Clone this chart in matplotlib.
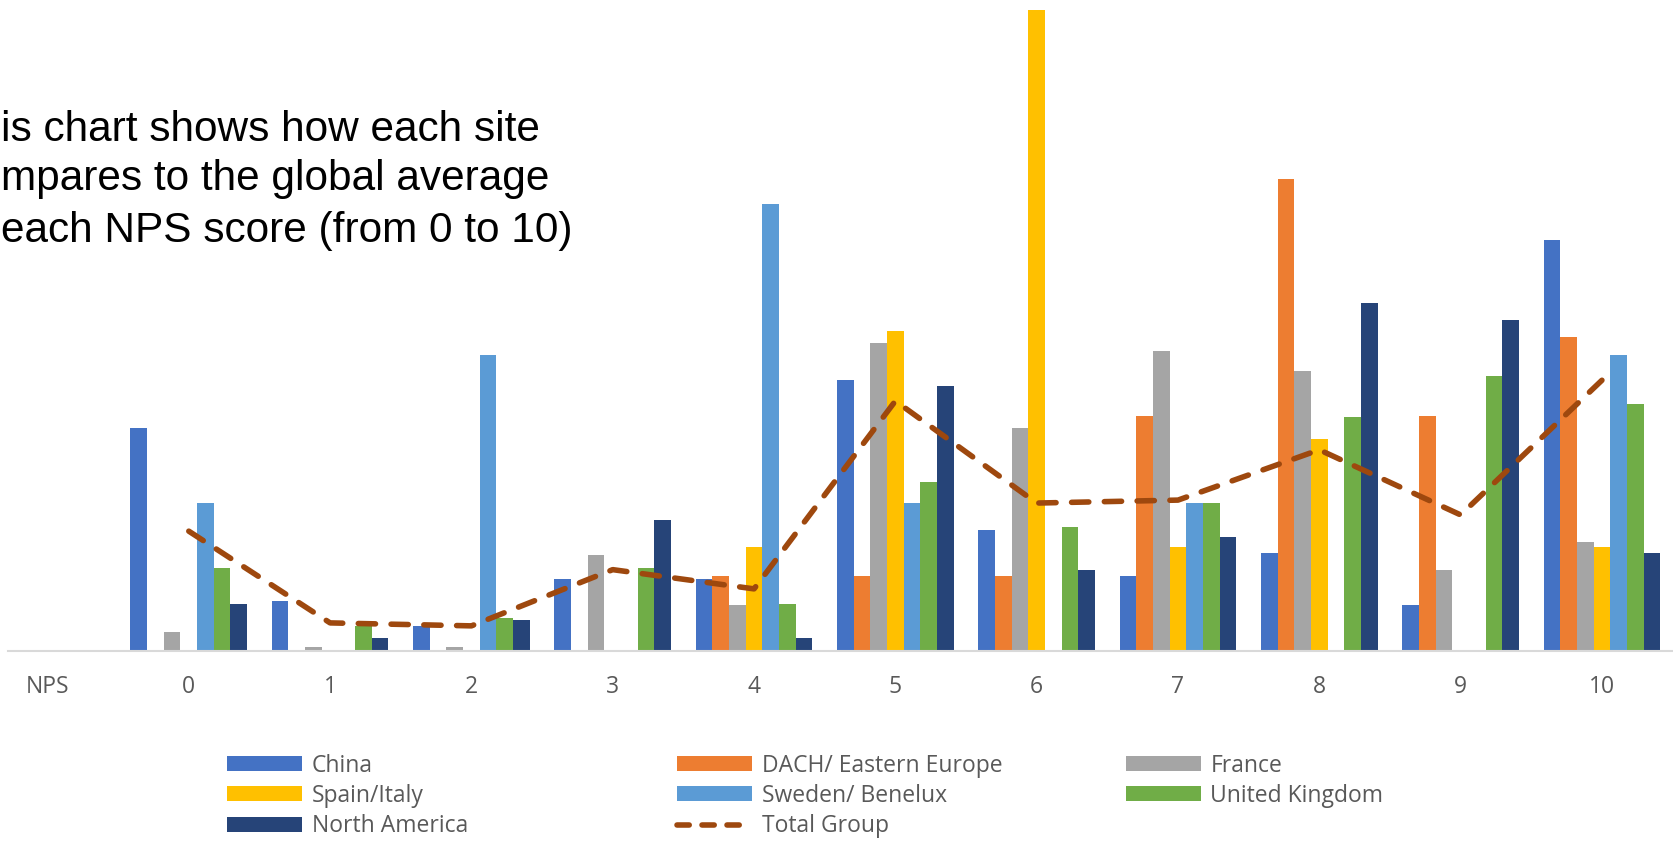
import numpy as np
import matplotlib
matplotlib.use('Agg')
import matplotlib.pyplot as plt
from matplotlib.lines import Line2D
from matplotlib.patches import Patch

# NPS score categories; the first one is just the row header, with no data
categories = ['NPS', '0', '1', '2', '3', '4', '5', '6', '7', '8', '9', '10']
nan = np.nan

# share of respondents per score (%)
china   = [nan, 15.1, 3.4, 1.7, 4.9, 4.9, 18.3, 8.2, 5.1, 6.6, 3.1, 27.8]
dach    = [nan, 0, 0, 0, 0, 5.1, 5.1, 5.1, 15.9, 31.9, 15.9, 21.2]
france  = [nan, 1.3, 0.3, 0.3, 6.5, 3.1, 20.8, 15.1, 20.3, 18.9, 5.5, 7.4]
spain   = [nan, 0, 0, 0, 0, 7.0, 21.6, 43.3, 7.0, 14.3, 0, 7.0]
sweden  = [nan, 10.0, 0, 20.0, 0, 30.2, 10.0, 0, 10.0, 0, 0, 20.0]
uk      = [nan, 5.6, 1.7, 2.25, 5.6, 3.2, 11.4, 8.4, 10.0, 15.8, 18.6, 16.7]
namer   = [nan, 3.2, 0.9, 2.1, 8.85, 0.9, 17.9, 5.5, 7.7, 23.5, 22.4, 6.6]
total   = [nan, 8.1, 1.9, 1.7, 5.5, 4.2, 16.9, 10.0, 10.2, 13.6, 9.2, 18.3]

series = [
    ('China', china, '#4472C4'),
    ('DACH/ Eastern Europe', dach, '#ED7D31'),
    ('France', france, '#A5A5A5'),
    ('Spain/Italy', spain, '#FFC000'),
    ('Sweden/ Benelux', sweden, '#5B9BD5'),
    ('United Kingdom', uk, '#70AD47'),
    ('North America', namer, '#264478'),
]
TOTAL_COLOR = '#9E480E'
GREY = '#595959'
FONT = ['Open Sans', 'DejaVu Sans']
FS = 16.5

fig = plt.figure(figsize=(16.74, 8.41), dpi=100)
ax = fig.add_axes([0, 0.2259, 1, 0.7741])

x = np.arange(len(categories))
bw = 0.118
for j, (name, vals, col) in enumerate(series):
    ax.bar(x + (j - 3) * bw, vals, width=bw, color=col, linewidth=0)

ax.plot(x, total, color=TOTAL_COLOR, lw=4.0, dashes=[3.1, 2.8],
        dash_capstyle='round', solid_capstyle='round')

ax.set_xlim(-0.336, 11.51)
ax.set_ylim(0, 44.0)
for s in ('top', 'right', 'left'):
    ax.spines[s].set_visible(False)
ax.spines['bottom'].set_color('#D9D9D9')
ax.spines['bottom'].set_linewidth(1.5)
ax.spines['bottom'].set_bounds(-0.28, 11.51)
ax.set_yticks([])
ax.set_xticks(x)
ax.set_xticklabels(categories, fontsize=FS, color=GREY, family=FONT)
ax.tick_params(axis='x', length=0, pad=17)

# overlay note (cropped on the left in the original)
note = ['is chart shows how each site',
        'mpares to the global average',
        'each NPS score (from 0 to 10)']
for txt, yb in zip(note, [0.8323, 0.7741, 0.7126]):
    fig.text(0.0006, yb, txt, fontsize=30.5, family=['Liberation Sans', 'DejaVu Sans'],
             va='baseline', ha='left', color='black')

# legend, three fixed columns
hs = {name: Patch(facecolor=col, edgecolor='none') for name, _, col in series}
hs['Total Group'] = Line2D([], [], color=TOTAL_COLOR, lw=4.0, dashes=[2.2, 2.3],
                           dash_capstyle='round')
columns = [(['China', 'Spain/Italy', 'North America'], 0.1356),
           (['DACH/ Eastern Europe', 'Sweden/ Benelux', 'Total Group'], 0.4044),
           (['France', 'United Kingdom'], 0.6725)]
for names, xl in columns:
    fig.legend([hs[n] for n in names], names, loc='upper left',
               bbox_to_anchor=(xl, 0.1040), frameon=False, borderpad=0,
               borderaxespad=0, handlelength=3.27, handleheight=0.62,
               handletextpad=0.42, labelspacing=0.28,
               prop={'family': FONT, 'size': FS}, labelcolor=GREY)

fig.savefig('out.png', dpi=100)
